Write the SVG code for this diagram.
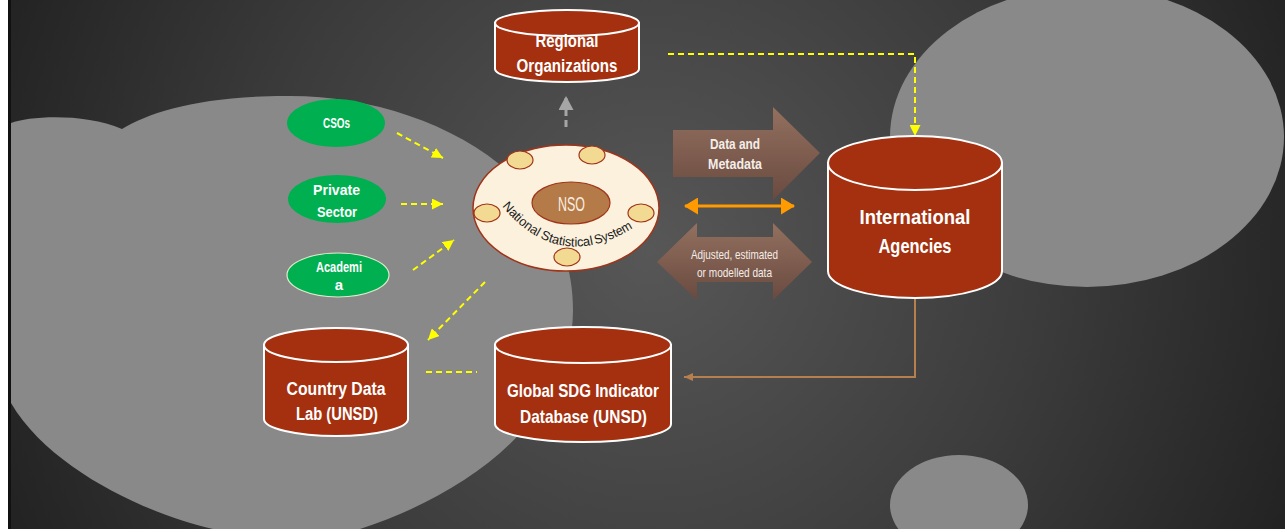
<svg xmlns="http://www.w3.org/2000/svg" width="1285" height="529" viewBox="0 0 1285 529">
<style>
.blob{fill:#898989}
.cyl{fill:#A5300F;stroke:#FFFFFF;stroke-width:2}
.ct{fill:#FFFFFF;font-family:"Liberation Sans",Arial,sans-serif;font-weight:bold;text-anchor:middle}
.grn{fill:#00B050}
.gt{fill:#FFFFFF;font-family:"Liberation Sans",Arial,sans-serif;font-weight:bold;font-size:15px;text-anchor:middle}
.ylw{fill:none;stroke:#FFFF00;stroke-width:2;stroke-dasharray:6 4}
.blk{fill:url(#brownGrad)}
.bt{fill:#F4EDE8;font-family:"Liberation Sans",Arial,sans-serif;text-anchor:middle}
.sm{fill:#F2DA93;stroke:#A0341A;stroke-width:1.2}
.arc{fill:#1A1A1A;font-family:"Liberation Sans",Arial,sans-serif;font-size:13px}
</style>
<defs>
<radialGradient id="bg" cx="650" cy="250" r="700" gradientUnits="userSpaceOnUse">
<stop offset="0" stop-color="#575757"/>
<stop offset="0.55" stop-color="#3c3c3c"/>
<stop offset="1" stop-color="#222222"/>
</radialGradient>
<linearGradient id="brownGrad" x1="0" y1="0" x2="0" y2="1">
<stop offset="0" stop-color="#93705F"/>
<stop offset="1" stop-color="#6A4A40"/>
</linearGradient>
<marker id="ya" markerUnits="userSpaceOnUse" markerWidth="11" markerHeight="11" viewBox="0 0 10 10" refX="10" refY="5" orient="auto">
<path d="M0 0 L10 5 L0 10 Z" fill="#FFFF00"/>
</marker>
<marker id="oa" markerUnits="userSpaceOnUse" markerWidth="14" markerHeight="17" viewBox="0 0 14 17" refX="13" refY="8.5" orient="auto-start-reverse">
<path d="M0 0 L14 8.5 L0 17 Z" fill="#FF9A00"/>
</marker>
<marker id="ba" markerUnits="userSpaceOnUse" markerWidth="9" markerHeight="8" viewBox="0 0 9 8" refX="9" refY="4" orient="auto">
<path d="M0 0 L9 4 L0 8 Z" fill="#B5804E"/>
</marker>
<marker id="ga" markerUnits="userSpaceOnUse" markerWidth="15" markerHeight="15" viewBox="0 0 14 15" refX="14" refY="7.5" orient="auto">
<path d="M0 0 L14 7.5 L0 15 Z" fill="#A6A6A6"/>
</marker>
<path id="nssArc" d="M502 206 Q558 274 633 228"/>
</defs>

<rect x="0" y="0" width="1285" height="529" fill="url(#bg)"/>
<rect x="0" y="0" width="8" height="529" fill="#FFFFFF"/>
<rect x="8" y="0" width="3" height="529" fill="#111111"/>

<g id="background-shapes">
<path class="blob" d="M11 123 C30 116 85 113 122 129 C150 112 200 96 285 96 C420 94 573 170 573 310 C573 410 480 490 360 529 L213 529 C150 515 50 470 11 403 Z"/>
<ellipse class="blob" cx="1087" cy="137" rx="197" ry="150"/>
<ellipse class="blob" cx="959" cy="505" rx="69" ry="50"/>
</g>

<g id="connectors">
<path class="ylw" d="M397 133 L443 158" marker-end="url(#ya)"/>
<path class="ylw" d="M401 204 L443 204" marker-end="url(#ya)"/>
<path class="ylw" d="M413 270 L454 240" marker-end="url(#ya)"/>
<path class="ylw" d="M485 282 L428 340" marker-end="url(#ya)"/>
<path class="ylw" d="M668 54 H915 V136" marker-end="url(#ya)"/>
<path class="ylw" d="M426 372 H477"/>
<path d="M566 127 V96" fill="none" stroke="#A6A6A6" stroke-width="3" stroke-dasharray="7 4" marker-end="url(#ga)"/>
<path d="M685 206 H794" fill="none" stroke="#FF9A00" stroke-width="3" marker-start="url(#oa)" marker-end="url(#oa)"/>
<path d="M915 298 V377 H684" fill="none" stroke="#B5804E" stroke-width="2" marker-end="url(#ba)"/>
</g>

<g id="arrow-data-metadata">
<path class="blk" d="M673 130 H773 V107 L820 153 L773 200 V177 H673 Z"/>
<text class="bt" font-weight="bold" font-size="14" x="735" y="149" textLength="50" lengthAdjust="spacingAndGlyphs">Data and</text>
<text class="bt" font-weight="bold" font-size="14" x="735" y="169" textLength="54" lengthAdjust="spacingAndGlyphs">Metadata</text>
</g>

<g id="arrow-adjusted">
<path class="blk" d="M657 262 L697 223 V237 H773 V223 L812 262 L773 300 V282 H697 V300 Z"/>
<text class="bt" font-size="13" x="734.5" y="259" textLength="87" lengthAdjust="spacingAndGlyphs">Adjusted, estimated</text>
<text class="bt" font-size="13" x="734.5" y="277" textLength="75" lengthAdjust="spacingAndGlyphs">or modelled data</text>
</g>

<g id="node-regional">
<path class="cyl" d="M495 23 V69 A72 13 0 0 0 639 69 V23 Z"/>
<ellipse class="cyl" cx="567" cy="23" rx="72" ry="13"/>
<text class="ct" font-size="17.5" x="567" y="47" textLength="63" lengthAdjust="spacingAndGlyphs">Regional</text>
<text class="ct" font-size="17.5" x="567" y="72" textLength="101" lengthAdjust="spacingAndGlyphs">Organizations</text>
</g>

<g id="node-international">
<path class="cyl" d="M828 163 V271 A87 27 0 0 0 1002 271 V163 Z"/>
<ellipse class="cyl" cx="915" cy="163" rx="87" ry="27"/>
<text class="ct" font-size="21" x="915" y="224" textLength="111" lengthAdjust="spacingAndGlyphs">International</text>
<text class="ct" font-size="21" x="915" y="253" textLength="73" lengthAdjust="spacingAndGlyphs">Agencies</text>
</g>

<g id="node-country-lab">
<path class="cyl" d="M264 345 V419 A72 17 0 0 0 408 419 V345 Z"/>
<ellipse class="cyl" cx="336" cy="345" rx="72" ry="17"/>
<text class="ct" font-size="18" x="336" y="395" textLength="99" lengthAdjust="spacingAndGlyphs">Country Data</text>
<text class="ct" font-size="18" x="337" y="420" textLength="82" lengthAdjust="spacingAndGlyphs">Lab (UNSD)</text>
</g>

<g id="node-global-sdg">
<path class="cyl" d="M495 345 V424 A88 18 0 0 0 671 424 V345 Z"/>
<ellipse class="cyl" cx="583" cy="345" rx="88" ry="18"/>
<text class="ct" font-size="18.5" x="583" y="397" textLength="152" lengthAdjust="spacingAndGlyphs">Global SDG Indicator</text>
<text class="ct" font-size="18.5" x="583.5" y="423" textLength="127" lengthAdjust="spacingAndGlyphs">Database (UNSD)</text>
</g>

<g id="node-csos">
<ellipse class="grn" cx="336" cy="123" rx="49" ry="24"/>
<text class="gt" x="336.5" y="128" textLength="27" lengthAdjust="spacingAndGlyphs">CSOs</text>
</g>

<g id="node-private">
<ellipse class="grn" cx="337" cy="199" rx="49" ry="24"/>
<text class="gt" x="336.5" y="195" textLength="47" lengthAdjust="spacingAndGlyphs">Private</text>
<text class="gt" x="337" y="217" textLength="40" lengthAdjust="spacingAndGlyphs">Sector</text>
</g>

<g id="node-academia">
<ellipse class="grn" cx="338" cy="275" rx="51" ry="22" stroke="#DDEBCB" stroke-width="1.2"/>
<text class="gt" font-size="14" x="339" y="272" textLength="46" lengthAdjust="spacingAndGlyphs">Academi</text>
<text class="gt" font-size="14" x="339" y="290">a</text>
</g>

<g id="node-nss">
<ellipse cx="566" cy="208" rx="93" ry="63" fill="#FBF1DC" stroke="#A0341A" stroke-width="1.5"/>
<ellipse class="sm" cx="520" cy="160" rx="13" ry="9"/>
<ellipse class="sm" cx="592" cy="155" rx="13" ry="9"/>
<ellipse class="sm" cx="487" cy="213" rx="13" ry="9"/>
<ellipse class="sm" cx="641" cy="213" rx="13" ry="9"/>
<ellipse class="sm" cx="567" cy="257" rx="13" ry="9"/>
<ellipse cx="571" cy="203" rx="39" ry="21" fill="#B47A47" stroke="#A0341A" stroke-width="1.2"/>
<text x="571.5" y="211" fill="#F8EEE0" font-family="Liberation Sans,Arial,sans-serif" font-size="21" text-anchor="middle" textLength="27" lengthAdjust="spacingAndGlyphs">NSO</text>
<text class="arc"><textPath href="#nssArc" startOffset="0" textLength="47" lengthAdjust="spacingAndGlyphs">National</textPath></text>
<text class="arc"><textPath href="#nssArc" startOffset="50" textLength="55" lengthAdjust="spacingAndGlyphs">Statistical</textPath></text>
<text class="arc"><textPath href="#nssArc" startOffset="107" textLength="41" lengthAdjust="spacingAndGlyphs">System</textPath></text>
</g>
</svg>
